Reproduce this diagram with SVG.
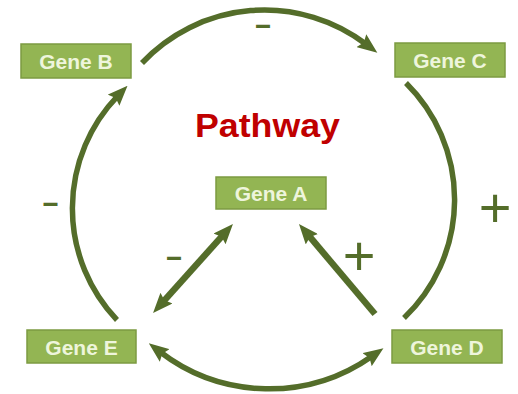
<svg xmlns="http://www.w3.org/2000/svg" width="518" height="394" viewBox="0 0 518 394">
  <style>
    .box { fill: #93B553; stroke: #7C9B42; stroke-width: 1.5; }
    .lbl { font-family: "Liberation Sans", Arial, sans-serif; font-weight: bold; font-size: 21px; fill: #EEF5DC; text-anchor: middle; }
    .edge { fill: none; stroke: #546D2A; stroke-width: 5.5; stroke-linecap: butt; }
    .diag { stroke-width: 6.5; }
    .sign { font-family: "Liberation Sans", Arial, sans-serif; fill: #546D2A; text-anchor: middle; }
    .minus { font-size: 40px; }
    .plus { font-size: 56px; }
    .title { font-family: "Liberation Sans", Arial, sans-serif; font-weight: bold; font-size: 34px; fill: #C00000; text-anchor: middle; }
  </style>
  <defs>
    <marker id="arr" markerUnits="userSpaceOnUse" markerWidth="20" markerHeight="16" viewBox="0 0 20 16" refX="6" refY="8" orient="auto-start-reverse">
      <path d="M0,0 L20,8 L0,16 L3,8 Z" fill="#546D2A"/>
    </marker>
  </defs>
  <rect width="518" height="394" fill="#FFFFFF"/>

  <text class="title" x="267.5" y="137" textLength="145" lengthAdjust="spacingAndGlyphs">Pathway</text>

  <g id="connectors">
    <path id="b-c" class="edge" d="M142,63 A168,168 0 0 1 366.2,44.3" marker-end="url(#arr)"/>
    <path id="c-d" class="edge" d="M406,83 A164,164 0 0 1 404,318"/>
    <path id="d-e" class="edge" d="M159.9,351.8 A179,179 0 0 0 372,356.2" marker-start="url(#arr)" marker-end="url(#arr)"/>
    <path id="e-b" class="edge" d="M117,320 A162,162 0 0 1 117.8,95.9" marker-end="url(#arr)"/>
    <path id="e-a" class="edge diag" d="M162.4,302.6 L223.6,234.4" marker-start="url(#arr)" marker-end="url(#arr)"/>
    <path id="d-a" class="edge diag" d="M375,314 L308,234.7" marker-end="url(#arr)"/>
  </g>

  <g id="signs">
    <text class="sign minus" x="263" y="37.2" textLength="19" lengthAdjust="spacingAndGlyphs">-</text>
    <text class="sign minus" x="50.5" y="215.2" textLength="19" lengthAdjust="spacingAndGlyphs">-</text>
    <text class="sign minus" x="174" y="269.2" textLength="19" lengthAdjust="spacingAndGlyphs">-</text>
    <text class="sign plus" x="495" y="226.7">+</text>
    <text class="sign plus" x="359" y="274.7">+</text>
  </g>

  <g id="geneB">
    <rect class="box" x="21" y="44" width="110" height="34"/>
    <text class="lbl" x="76" y="69">Gene B</text>
  </g>
  <g id="geneC">
    <rect class="box" x="395" y="43" width="110" height="34"/>
    <text class="lbl" x="450" y="68">Gene C</text>
  </g>
  <g id="geneA">
    <rect class="box" x="216" y="177" width="110" height="32"/>
    <text class="lbl" x="271" y="201">Gene A</text>
  </g>
  <g id="geneE">
    <rect class="box" x="27" y="330" width="109" height="33"/>
    <text class="lbl" x="81.5" y="354.5">Gene E</text>
  </g>
  <g id="geneD">
    <rect class="box" x="392" y="330" width="110" height="33"/>
    <text class="lbl" x="447" y="354.5">Gene D</text>
  </g>
</svg>
